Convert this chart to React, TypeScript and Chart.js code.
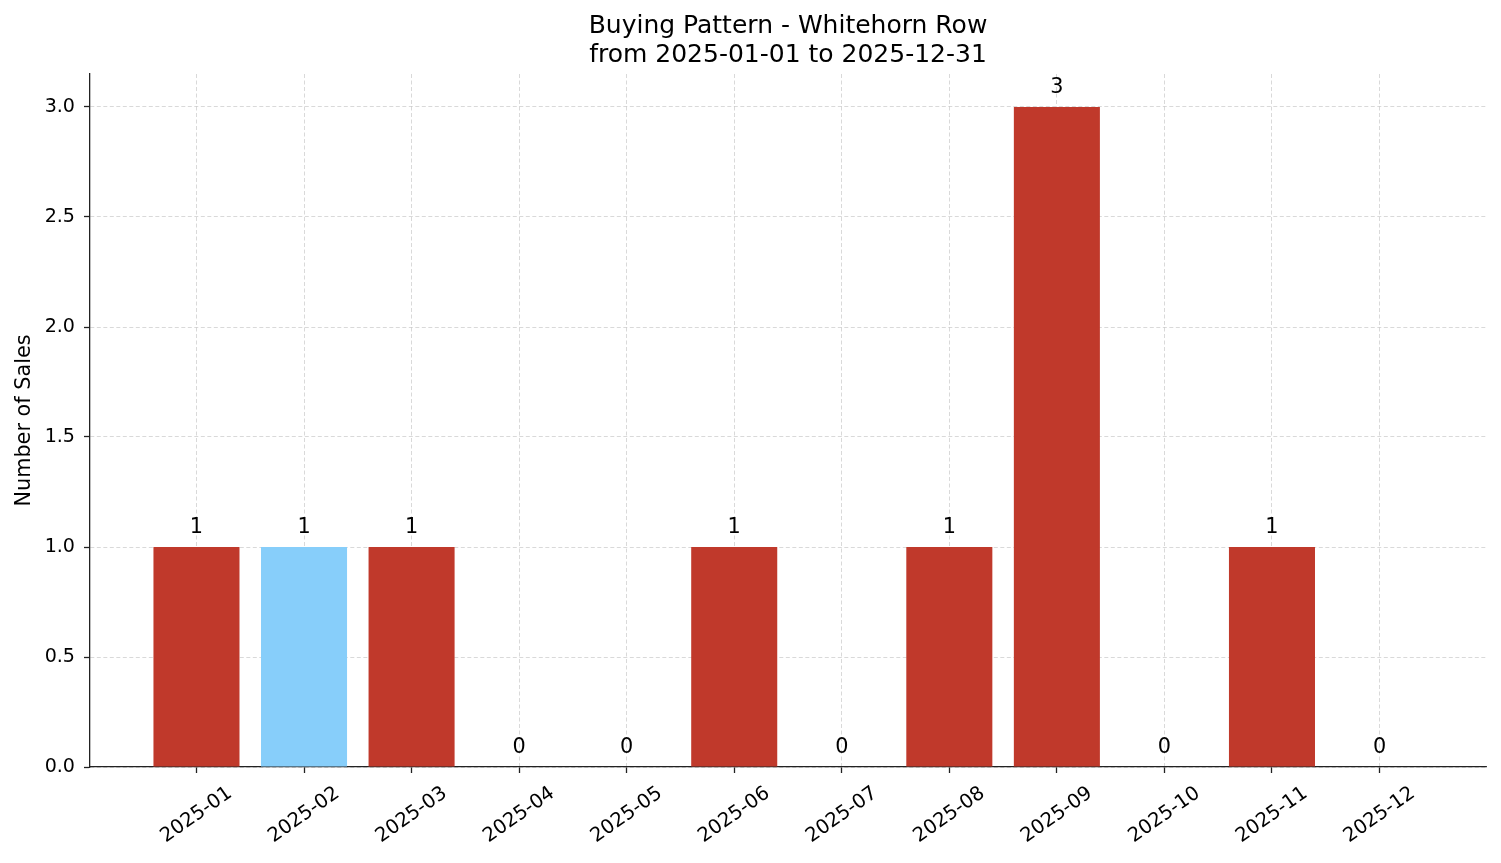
import { useEffect, useRef } from 'react';
import { Chart, registerables } from 'chart.js';

Chart.register(...registerables);

const months = [
  '2025-01', '2025-02', '2025-03', '2025-04', '2025-05', '2025-06',
  '2025-07', '2025-08', '2025-09', '2025-10', '2025-11', '2025-12'
];
const sales = [1, 1, 1, 0, 0, 1, 0, 1, 3, 0, 1, 0];
const highlightMonth = '2025-02';
const yTicks = [0, 0.5, 1, 1.5, 2, 2.5, 3];
const titleLines = ['Buying Pattern - Whitehorn Row', 'from 2025-01-01 to 2025-12-31'];

const FONT = "'DejaVu Sans', sans-serif";
const RED = '#c0392b';
const BLUE = '#87cefa';
const GRID = 'rgba(160,160,160,0.5)';
const SPINE = '#222';

const barLabels = {
  id: 'barLabels',
  afterDatasetsDraw(chart: Chart) {
    const ctx = chart.ctx;
    const meta = chart.getDatasetMeta(0);
    ctx.save();
    ctx.font = `20.8px ${FONT}`;
    ctx.fillStyle = '#000';
    ctx.textAlign = 'center';
    ctx.textBaseline = 'alphabetic';
    meta.data.forEach((bar: any, i) => {
      ctx.fillText(String(sales[i]), bar.x, bar.y - 14);
    });
    ctx.restore();
  }
};

// matplotlib-style rotated labels, centred on the tick
const monthLabels = {
  id: 'monthLabels',
  afterDraw(chart: Chart) {
    const ctx = chart.ctx;
    const x = chart.scales.x;
    const y0 = chart.chartArea.bottom + 48;
    ctx.save();
    ctx.font = `19.6px ${FONT}`;
    ctx.fillStyle = '#000';
    ctx.textAlign = 'center';
    ctx.textBaseline = 'middle';
    months.forEach((m, i) => {
      ctx.save();
      ctx.translate(x.getPixelForValue(i), y0);
      ctx.rotate((-35 * Math.PI) / 180);
      ctx.fillText(m, 0, 0);
      ctx.restore();
    });
    ctx.restore();
  }
};

// title centred over the plot area, as matplotlib does
const plotTitle = {
  id: 'plotTitle',
  afterDraw(chart: Chart) {
    const ctx = chart.ctx;
    const { left, right } = chart.chartArea;
    ctx.save();
    ctx.font = `25px ${FONT}`;
    ctx.fillStyle = '#000';
    ctx.textAlign = 'center';
    ctx.textBaseline = 'alphabetic';
    titleLines.forEach((t, i) => {
      ctx.fillText(t, (left + right) / 2, 33 + i * 28.7);
    });
    ctx.restore();
  }
};

export default function App() {
  const canvasRef = useRef<HTMLCanvasElement>(null);
  const chartRef = useRef<Chart | null>(null);

  useEffect(() => {
    if (!canvasRef.current) return;
    if (chartRef.current) chartRef.current.destroy();

    chartRef.current = new Chart(canvasRef.current, {
      type: 'bar',
      data: {
        datasets: [
          {
            data: sales.map((v, i) => ({ x: i, y: v })),
            backgroundColor: months.map((m) => (m === highlightMonth ? BLUE : RED)),
            borderWidth: 0,
            categoryPercentage: 1,
            barPercentage: 0.8
          }
        ]
      },
      options: {
        responsive: false,
        animation: false,
        devicePixelRatio: 1,
        layout: { padding: { left: 0, right: 15, top: 74, bottom: 0 } },
        plugins: {
          legend: { display: false },
          tooltip: { enabled: false },
          title: { display: false }
        },
        scales: {
          x: {
            type: 'linear',
            min: -0.99,
            max: 11.99,
            offset: false,
            z: 1,
            afterBuildTicks: (scale: any) => {
              scale.ticks = months.map((_, i) => ({ value: i }));
            },
            afterFit: (scale: any) => {
              scale.height = 96;
            },
            ticks: { display: false },
            grid: {
              offset: false,
              color: GRID,
              lineWidth: 0.8,
              drawTicks: true,
              tickLength: 6,
              tickColor: SPINE,
              tickWidth: 1.3,
              tickBorderDash: []
            },
            border: { display: true, color: SPINE, width: 1.3, dash: [4, 2.5] }
          },
          y: {
            type: 'linear',
            min: 0,
            max: 3.15,
            z: 1,
            afterBuildTicks: (scale: any) => {
              scale.ticks = yTicks.map((v) => ({ value: v }));
            },
            afterFit: (scale: any) => {
              scale.width = 90;
            },
            ticks: {
              color: '#000',
              font: { family: FONT, size: 19.1 },
              padding: 9,
              callback: (v: any) => Number(v).toFixed(1)
            },
            grid: {
              color: GRID,
              lineWidth: 0.8,
              drawTicks: true,
              tickLength: 6,
              tickColor: SPINE,
              tickWidth: 1.3,
              tickBorderDash: []
            },
            border: { display: true, color: SPINE, width: 1.3, dash: [4, 2.5] },
            title: {
              display: true,
              text: 'Number of Sales',
              color: '#000',
              font: { family: FONT, size: 20.8 },
              padding: { top: 12, bottom: 0 }
            }
          }
        }
      },
      plugins: [barLabels, monthLabels, plotTitle]
    });

    return () => {
      if (chartRef.current) {
        chartRef.current.destroy();
        chartRef.current = null;
      }
    };
  }, []);

  return (
    <div style={{ position: 'absolute', left: 0, top: 0, width: 1501, height: 863, background: '#fff' }}>
      <canvas ref={canvasRef} width={1501} height={863} />
    </div>
  );
}
